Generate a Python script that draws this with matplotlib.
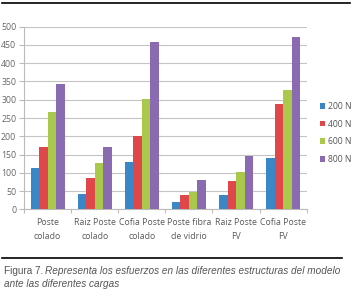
import matplotlib
matplotlib.use("Agg")
import matplotlib.pyplot as plt
import numpy as np

categories = ["Poste\ncolado", "Raiz Poste\ncolado", "Cofia Poste\ncolado",
              "Poste fibra\nde vidrio", "Raiz Poste\nFV", "Cofia Poste\nFV"]
series_names = ["200 N", "400 N", "600 N", "800 N"]
v200 = [114, 41, 130, 20, 38, 141]
v400 = [171, 85, 201, 39, 77, 288]
v600 = [266, 128, 301, 47, 101, 327]
v800 = [343, 171, 457, 80, 147, 473]
yticks = [0, 50, 100, 150, 200, 250, 300, 350, 400, 450, 500]
colors = ["#3a87c8", "#e0474a", "#aac94c", "#8a6bb2"]

fig = plt.figure(figsize=(3.6, 2.96), dpi=100)
ax = fig.add_axes([24/360, 1-209.3/296, (306.7-24)/360, (209.3-26.7)/296])

x = np.arange(len(categories))
w = 0.18
for i, (vals, c, n) in enumerate(zip([v200, v400, v600, v800], colors, series_names)):
    ax.bar(x + (i - 1.5) * w, vals, w, color=c, label=n, zorder=3)

fam = ["Open Sans", "DejaVu Sans"]
ax.set_xlim(-0.5, len(categories) - 0.5)
ax.set_ylim(0, 500)
ax.set_yticks(yticks)
ax.yaxis.grid(True, color="#c4c4c4", linewidth=0.8, zorder=0)
ax.set_xticks(x)
ax.set_xticklabels(categories, fontsize=6.3, color="#5a5a5a", family=fam, linespacing=1.75)
ax.tick_params(axis="x", length=0, pad=6)
ax.set_xticks(np.arange(-0.5, len(categories), 1), minor=True)
ax.tick_params(axis="x", which="minor", length=3, color="#bbbbbb", width=0.8)
ax.tick_params(axis="y", length=3.5, color="#bbbbbb", width=0.8, labelsize=6.3, labelcolor="#666666", pad=2)
for lab in ax.get_yticklabels():
    lab.set_family(fam)
for s in ["top", "right"]:
    ax.spines[s].set_visible(False)
ax.spines["left"].set_color("#bbbbbb")
ax.spines["bottom"].set_color("#bbbbbb")

leg = ax.legend(loc="upper left", bbox_to_anchor=(1.02, 0.63), frameon=False,
                prop={"family": fam, "size": 6.2},
                handlelength=0.6, handleheight=0.6, handletextpad=0.3, labelspacing=1.0)
for t in leg.get_texts():
    t.set_color("#555555")

fig.add_artist(plt.Line2D([2/360, 350/360], [1-3/296, 1-3/296], color="black", linewidth=1.2))
fig.add_artist(plt.Line2D([2/360, 342/360], [1-258/296, 1-258/296], color="black", linewidth=1.2))

cap_font = ["Liberation Sans Narrow", "Liberation Sans", "DejaVu Sans"]
t1 = fig.text(4/360, 1-271/296, "Figura 7.", fontsize=7.2, color="#555555", family=cap_font, va="center")
fig.canvas.draw()
bb = t1.get_window_extent()
fig.text(bb.x1/360 + 2/360, 1-271/296, "Representa los esfuerzos en las diferentes estructuras del modelo",
         fontsize=7.2, color="#555555", family=cap_font, style="italic", va="center")
fig.text(4/360, 1-284/296, "ante las diferentes cargas", fontsize=7.2, color="#555555",
         family=cap_font, style="italic", va="center")

fig.savefig("out.png", dpi=100)
